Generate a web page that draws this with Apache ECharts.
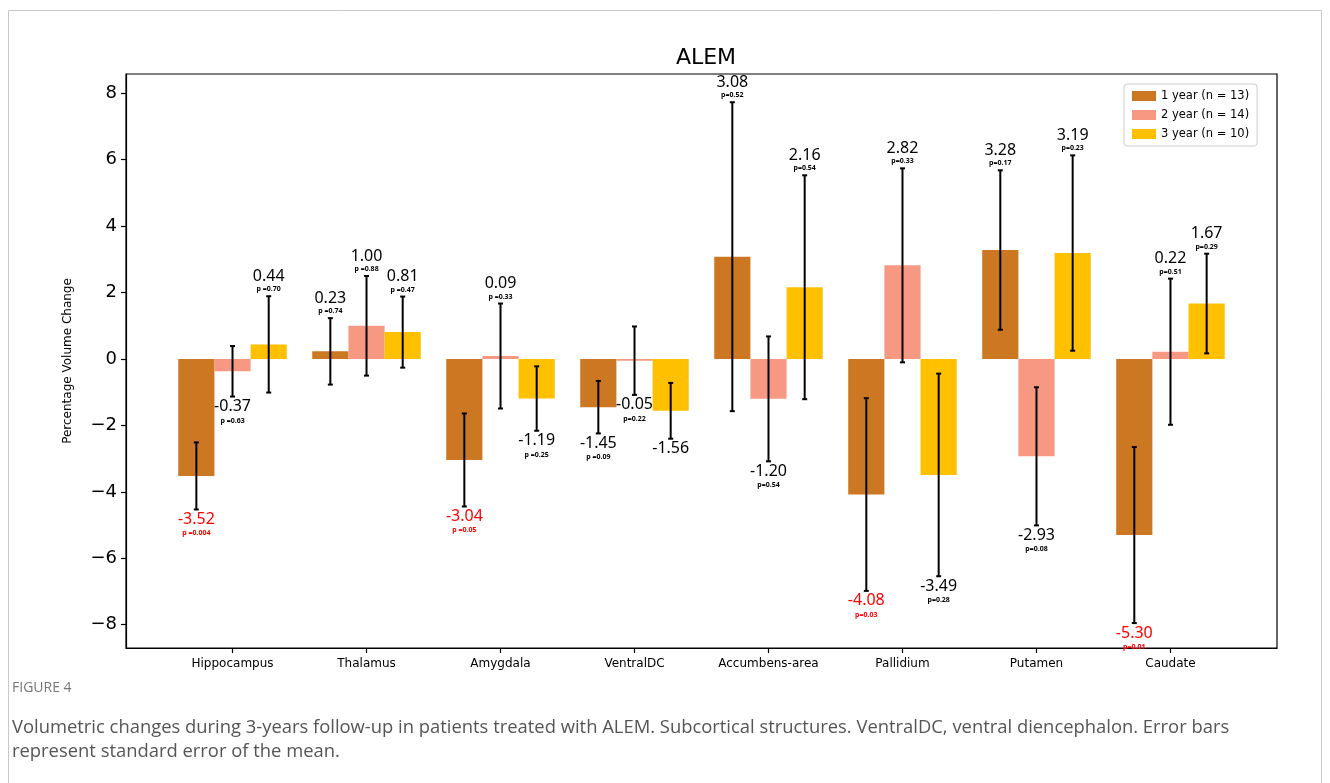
<!DOCTYPE html>
<html>
<head>
<meta charset="utf-8">
<script src="https://cdn.jsdelivr.net/npm/echarts@6/dist/echarts.min.js"></script>
<style>
html,body{margin:0;padding:0;background:#fff;}
#chart{width:1330px;height:783px;}
</style>
</head>
<body>
<div id="chart"></div>
<script>
// ---- data ----
const categories = ['Hippocampus','Thalamus','Amygdala','VentralDC','Accumbens-area','Pallidium','Putamen','Caudate'];
const seriesNames = ['1 year (n = 13)','2 year (n = 14)','3 year (n = 10)'];
const year1 = [-3.52, 0.23, -3.04, -1.45, 3.08, -4.08, 3.28, -5.30];
const year2 = [-0.37, 1.00, 0.09, -0.05, -1.20, 2.82, -2.93, 0.22];
const year3 = [0.44, 0.81, -1.19, -1.56, 2.16, -3.49, 3.19, 1.67];
const sem1 = [1.01, 1.00, 1.40, 0.79, 4.65, 2.90, 2.40, 2.65];
const sem2 = [0.76, 1.50, 1.58, 1.03, 1.88, 2.92, 2.08, 2.20];
const sem3 = [1.45, 1.07, 0.97, 0.84, 3.37, 3.05, 2.94, 1.50];
const pText1 = ['p =0.004','p =0.74','p =0.05','p =0.09','p=0.52','p=0.03','p=0.17','p=0.01'];
const pText2 = ['p =0.63','p =0.88','p =0.33','p=0.22','p=0.54','p=0.33','p=0.08','p=0.51'];
const pText3 = ['p =0.70','p =0.47','p =0.25','','p=0.54','p=0.28','p=0.23','p=0.29'];
const significant1 = [true, false, true, false, false, true, false, true];
const significant2 = [false, false, false, false, false, false, false, false];
const significant3 = [false, false, false, false, false, false, false, false];
const yTicks = [-8, -6, -4, -2, 0, 2, 4, 6, 8];

// ---- styling ----
const colors = ['#CC7722', '#F69882', '#FFC000'];
const barW = 0.27;
const allVals = [year1, year2, year3];
const allSem = [sem1, sem2, sem3];
const allP = [pText1, pText2, pText3];
const allSig = [significant1, significant2, significant3];
const numFont = '"Noto Sans", "DejaVu Sans", sans-serif';

function makeSeries(k) {
  return {
    name: seriesNames[k],
    type: 'custom',
    itemStyle: { color: colors[k] },
    data: categories.map((c, i) => [i, allVals[k][i], allSem[k][i]]),
    encode: { x: 0, y: 1 },
    z: 2,
    renderItem: function (params, api) {
      const i = api.value(0), v = api.value(1), e = api.value(2);
      const xv = i + (k - 1) * barW;
      const w = api.size([barW, 0])[0];
      const p0 = api.coord([xv, 0]);
      const p1 = api.coord([xv, v]);
      const pt = api.coord([xv, v + e]);
      const pb = api.coord([xv, v - e]);
      const cx = p0[0];
      const sig = allSig[k][params.dataIndex];
      const pt_ = allP[k][params.dataIndex];
      const col = sig ? '#FF0000' : '#000';
      const children = [
        { type: 'rect', shape: { x: cx - w / 2, y: Math.min(p0[1], p1[1]), width: w, height: Math.abs(p1[1] - p0[1]) },
          style: { fill: colors[k] } },
        { type: 'line', shape: { x1: cx, y1: pt[1], x2: cx, y2: pb[1] }, style: { stroke: '#000', lineWidth: 2 }, z2: 5 },
        { type: 'line', shape: { x1: cx - 2.5, y1: pt[1], x2: cx + 2.5, y2: pt[1] }, style: { stroke: '#000', lineWidth: 2 }, z2: 5 },
        { type: 'line', shape: { x1: cx - 2.5, y1: pb[1], x2: cx + 2.5, y2: pb[1] }, style: { stroke: '#000', lineWidth: 2 }, z2: 5 }
      ];
      let ly, py;
      if (v >= 0) { ly = pt[1] - 20; py = pt[1] - 7; }
      else { ly = pb[1] + 10; py = pb[1] + 24; }
      children.push({ type: 'text', style: { text: v.toFixed(2), x: cx, y: ly, align: 'center', verticalAlign: 'middle',
        fill: col, font: '16px ' + numFont }, z2: 6 });
      if (pt_) {
        children.push({ type: 'text', style: { text: pt_, x: cx, y: py, align: 'center', verticalAlign: 'middle',
          fill: col, font: 'bold 7px ' + numFont }, z2: 6 });
      }
      return { type: 'group', children: children };
    }
  };
}

const chart = echarts.init(document.getElementById('chart'), null, { renderer: 'canvas' });
const option = {
  animation: false,
  backgroundColor: '#fff',
  color: colors,
  title: {
    text: 'ALEM', left: 701, top: 42, textAlign: 'center',
    textStyle: { fontFamily: 'DejaVu Sans', fontSize: 22, fontWeight: 'normal', color: '#000' }
  },
  legend: {
    orient: 'vertical', left: 1124, top: 84,
    data: seriesNames.map((n, k) => ({ name: n, icon: 'rect', itemStyle: { color: colors[k] } })),
    itemWidth: 24, itemHeight: 10, itemGap: 7,
    backgroundColor: '#fff', borderColor: '#cccccc', borderWidth: 1, borderRadius: 3,
    padding: [6, 8, 6, 8],
    textStyle: { fontFamily: 'DejaVu Sans', fontSize: 11.5, color: '#000' }
  },
  grid: {
    left: 126, right: 53, top: 74, bottom: 135,
    show: true, borderColor: '#000', borderWidth: 1.2, backgroundColor: 'transparent'
  },
  xAxis: {
    type: 'value', min: -0.795, max: 7.795,
    splitLine: { show: false },
    axisLine: { show: true, onZero: false, lineStyle: { color: '#000', width: 1.2 } },
    axisTick: { show: true, length: 5, lineStyle: { color: '#000', width: 1.2 }, customValues: categories.map((c, i) => i) },
    axisLabel: {
      customValues: categories.map((c, i) => i),
      formatter: v => categories[Math.round(v)] || '',
      margin: 10, color: '#000', fontFamily: 'DejaVu Sans', fontSize: 12
    }
  },
  yAxis: {
    type: 'value', min: -8.7, max: 8.58,
    name: 'Percentage Volume Change', nameLocation: 'middle', nameGap: 52,
    nameTextStyle: { fontFamily: 'DejaVu Sans', fontSize: 12, color: '#000' },
    splitLine: { show: false },
    axisLine: { show: true, onZero: false, lineStyle: { color: '#000', width: 1.2 } },
    axisTick: { show: true, length: 5, lineStyle: { color: '#000', width: 1.2 }, customValues: yTicks },
    axisLabel: {
      customValues: yTicks,
      formatter: v => String(v).replace('-', '\u2212'),
      margin: 9, color: '#000', fontFamily: 'DejaVu Sans', fontSize: 18
    }
  },
  graphic: [
    { type: 'rect', shape: { x: 8.5, y: 10.5, width: 1313, height: 800 }, style: { fill: 'none', stroke: '#c8c8c8', lineWidth: 1 }, silent: true, z: -10 },
    { type: 'text', left: 12, top: 681, style: { text: 'FIGURE 4', fill: '#777', font: '14px "Open Sans", sans-serif' } },
    { type: 'text', left: 12, top: 719, style: { text: 'Volumetric changes during 3-years follow-up in patients treated with ALEM. Subcortical structures. VentralDC, ventral diencephalon. Error bars', fill: '#555', font: '18.4px "Open Sans", sans-serif' } },
    { type: 'text', left: 12, top: 743, style: { text: 'represent standard error of the mean.', fill: '#555', font: '18.4px "Open Sans", sans-serif' } }
  ],
  series: [makeSeries(0), makeSeries(1), makeSeries(2)]
};
chart.setOption(option);
</script>
</body>
</html>
